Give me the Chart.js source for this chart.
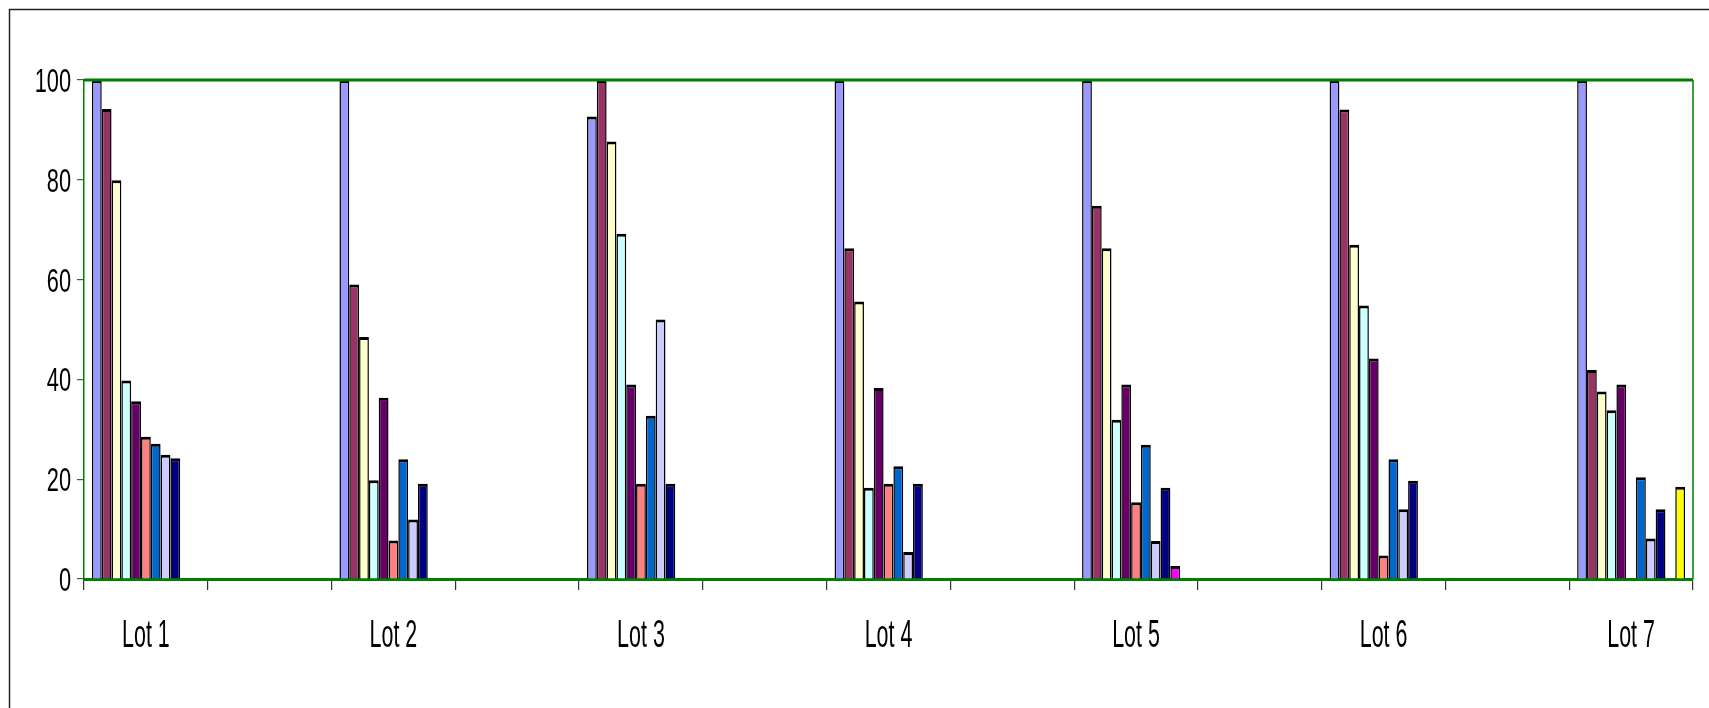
<!DOCTYPE html>
<html>
<head>
<meta charset="utf-8">
<title>Lots</title>
<script src="https://cdn.jsdelivr.net/npm/chart.js@4/dist/chart.umd.min.js"></script>
<style>
  html, body { margin: 0; padding: 0; background: #ffffff; }
  #wrap { width: 1709px; height: 708px; position: relative; }
</style>
</head>
<body>
<div id="wrap"><canvas id="chart" width="1709" height="708"></canvas></div>
<script>
// Lot names; each lot is followed by an empty spacer slot on the category axis
const lots = ["Lot 1", "Lot 2", "Lot 3", "Lot 4", "Lot 5", "Lot 6", "Lot 7"];

// One value per lot for each series (null = no bar)
const serie1  = [100, 100, 92.7, 100, 100, 100, 100];
const serie2  = [94.2, 59, 100, 66.3, 74.8, 94.1, 41.9];
const serie3  = [79.9, 48.5, 87.7, 55.6, 66.3, 67, 37.6];
const serie4  = [39.8, 19.8, 69.2, 18.3, 31.9, 54.8, 33.8];
const serie5  = [35.6, 36.3, 39, 38.3, 39, 44.2, 39];
const serie6  = [28.5, 7.7, 19.1, 19.1, 15.4, 4.7, null];
const serie7  = [27.1, 24, 32.7, 22.6, 26.9, 24, 20.4];
const serie8  = [24.9, 11.9, 52, 5.4, 7.6, 14, 8.1];
const serie9  = [24.2, 19.1, 19.1, 19.1, 18.3, 19.7, 14];
const serie10 = [null, null, null, null, 2.6, null, null];
const serie11 = [null, null, null, null, null, null, 18.5];

const yTicks = [0, 20, 40, 60, 80, 100];

const seriesValues = [serie1, serie2, serie3, serie4, serie5, serie6, serie7, serie8, serie9, serie10, serie11];
const seriesColors = ["#9999FF", "#993366", "#FFFFCC", "#CCFFFF", "#660066", "#FF8080",
                      "#0066CC", "#CCCCFF", "#000080", "#FF00FF", "#FFFF00"];

// Category axis: lot, spacer, lot, spacer, ... lot
const categories = [];
lots.forEach((name, i) => {
  categories.push(name);
  if (i < lots.length - 1) categories.push("");
});

function spread(values) {
  const out = [];
  values.forEach((v, i) => {
    out.push(v);
    if (i < values.length - 1) out.push(null);
  });
  return out;
}

const datasets = seriesValues.map((vals, i) => ({
  label: "Série " + (i + 1),
  data: spread(vals),
  backgroundColor: seriesColors[i],
  borderColor: "#000000",
  borderWidth: { top: 3, left: 1.5, right: 1.5, bottom: 0 },
  borderSkipped: "start",
  categoryPercentage: 0.872,
  barPercentage: 1.0
}));

const GREEN = "#008000";

// Frame, plot border and condensed axis labels
const decor = {
  id: "decor",
  beforeDraw(chart) {
    const ctx = chart.ctx;
    ctx.save();
    ctx.fillStyle = "#ffffff";
    ctx.fillRect(0, 0, chart.width, chart.height);
    ctx.strokeStyle = "#222222";
    ctx.lineWidth = 1.5;
    ctx.beginPath();
    ctx.moveTo(9.5, chart.height + 2);
    ctx.lineTo(9.5, 9.5);
    ctx.lineTo(chart.width + 2, 9.5);
    ctx.stroke();
    ctx.restore();
  },
  afterDraw(chart) {
    const ctx = chart.ctx;
    const a = chart.chartArea;
    ctx.save();
    // top and right edges of the plot border
    ctx.strokeStyle = GREEN;
    ctx.lineWidth = 3;
    ctx.beginPath();
    ctx.moveTo(a.left, a.top);
    ctx.lineTo(a.right, a.top);
    ctx.stroke();
    ctx.lineWidth = 1.5;
    ctx.beginPath();
    ctx.moveTo(a.right, a.top);
    ctx.lineTo(a.right, a.bottom);
    ctx.stroke();

    ctx.fillStyle = "#000000";
    // y tick labels
    const ys = chart.scales.y;
    ctx.font = "33px 'Liberation Sans', Arial, sans-serif";
    ctx.textAlign = "right";
    ctx.textBaseline = "alphabetic";
    ys.ticks.forEach((t, i) => {
      const py = ys.getPixelForTick(i);
      ctx.save();
      ctx.translate(a.left - 13, py + 12);
      ctx.scale(0.66, 1);
      ctx.fillText(String(t.value), 0, 0);
      ctx.restore();
    });
    // category labels
    const xs = chart.scales.x;
    ctx.font = "39px 'Liberation Sans', Arial, sans-serif";
    ctx.textAlign = "center";
    categories.forEach((c, i) => {
      if (!c) return;
      const px = xs.getPixelForValue(i);
      ctx.save();
      ctx.translate(px, a.bottom + 68);
      ctx.scale(0.55, 1);
      ctx.fillText(c, 0, 0);
      ctx.restore();
    });
    ctx.restore();
  }
};

new Chart(document.getElementById("chart"), {
  type: "bar",
  data: { labels: categories, datasets },
  options: {
    responsive: false,
    animation: false,
    events: [],
    layout: { padding: { top: 80, right: 16, left: 0, bottom: 0 } },
    plugins: { legend: { display: false }, tooltip: { enabled: false }, title: { display: false } },
    scales: {
      x: {
        grid: { display: true, offset: true, drawOnChartArea: false, drawTicks: true,
                tickLength: 11, color: "#333333", lineWidth: 1.2 },
        border: { display: true, color: GREEN, width: 3 },
        ticks: { display: false },
        afterFit(s) { s.height = 129; }
      },
      y: {
        min: 0, max: 100,
        afterBuildTicks(s) { s.ticks = yTicks.map(v => ({ value: v })); },
        grid: { display: true, drawOnChartArea: false, drawTicks: true,
                tickLength: 7, color: "#555555", lineWidth: 1.2 },
        border: { display: true, color: GREEN, width: 1.5 },
        ticks: { display: false },
        afterFit(s) { s.width = 84; }
      }
    }
  },
  plugins: [decor]
});
</script>
</body>
</html>
